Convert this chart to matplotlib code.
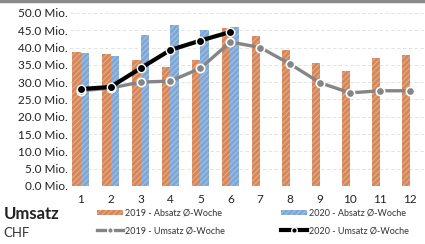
import matplotlib.pyplot as plt
import matplotlib.lines as mlines
import matplotlib.patches as mpatches
import numpy as np

# weeks and values (Mio. CHF)
weeks = [1, 2, 3, 4, 5, 6, 7, 8, 9, 10, 11, 12]
absatz_2019 = [38.7, 38.2, 36.4, 34.4, 36.4, 45.6, 43.4, 39.3, 35.5, 33.2, 37.0, 37.9]
absatz_2020 = [38.4, 37.6, 43.6, 46.5, 45.0, 46.0]
umsatz_2019 = [27.5, 28.3, 30.0, 30.3, 34.0, 41.6, 40.0, 35.2, 29.8, 26.9, 27.5, 27.5]
umsatz_2020 = [28.0, 28.6, 34.0, 39.3, 42.0, 44.5]
yticks = [0, 5, 10, 15, 20, 25, 30, 35, 40, 45, 50]

orange = '#d4875a'
blue = '#7fa7d6'
grey = '#858585'

plt.rcParams['font.family'] = ['Lato', 'DejaVu Sans']
plt.rcParams['hatch.linewidth'] = 0.8

fig = plt.figure(figsize=(4.25, 2.44), dpi=100)
ax = fig.add_axes([0.165, 0.238, 0.835, 0.709])

x = np.array(weeks)
w = 0.28
ax.bar(x - w / 2, absatz_2019, w, color=orange, edgecolor='#e7aa86', hatch='//////', linewidth=0, zorder=2)
ax.bar(x[:len(absatz_2020)] + w / 2, absatz_2020, w, color=blue, edgecolor='#a2c0e4', hatch='//////', linewidth=0, zorder=2)

ax.plot(x, umsatz_2019, color=grey, lw=2.4, marker='o', ms=6, mfc=grey, mec='white', mew=1.2, zorder=3)
ax.plot(x[:len(umsatz_2020)], umsatz_2020, color='black', lw=3, marker='o', ms=6, mfc='black', mec='white', mew=1.0, zorder=4)

ax.set_xlim(0.65, 12.5)
ax.set_ylim(0, 50)
ax.set_xticks(weeks)
ax.set_yticks(yticks)
ax.set_yticklabels(['%.1f Mio.' % v for v in yticks])
ax.tick_params(length=0, labelsize=8.5, colors='#222222')
ax.tick_params(axis='y', pad=1.5)
ax.tick_params(axis='x', pad=6)
ax.grid(axis='y', color='#dddddd', linestyle=(0, (4, 3)), lw=0.6, zorder=0)
for s in ax.spines.values():
    s.set_visible(False)

# legend, one column each
h1 = mpatches.Patch(facecolor=orange, edgecolor='#e7aa86', hatch='//////', lw=0, label='2019 - Absatz Ø-Woche')
h2 = mpatches.Patch(facecolor=blue, edgecolor='#a2c0e4', hatch='//////', lw=0, label='2020 - Absatz Ø-Woche')
h3 = mlines.Line2D([], [], color=grey, lw=2.4, marker='o', ms=4, mfc=grey, mec='white', label='2019 - Umsatz Ø-Woche')
h4 = mlines.Line2D([], [], color='black', lw=3, marker='o', ms=4, mfc='black', mec='white', label='2020 - Umsatz Ø-Woche')
leg_kw = dict(loc='upper left', frameon=False, fontsize=6.5, handlelength=2.9, handleheight=0.5,
              handletextpad=0.15, labelspacing=0.9, labelcolor='#333333', borderpad=0, borderaxespad=0)
fig.legend(handles=[h1, h3], bbox_to_anchor=(97 / 425, 1 - 209 / 244), **leg_kw)
fig.legend(handles=[h2, h4], bbox_to_anchor=(281 / 425, 1 - 209 / 244), **leg_kw)

fig.text(0.008, 1 - 214 / 244, 'Umsatz', fontsize=12, fontweight='bold', color='#222222', va='center')
fig.text(0.008, 1 - 233 / 244, 'CHF', fontsize=9.5, color='#333333', va='center')

# top border
fig.add_artist(mlines.Line2D([0, 1], [0.997, 0.997], color='#8a8a8a', lw=2.5))

fig.savefig('out.png', dpi=100)
